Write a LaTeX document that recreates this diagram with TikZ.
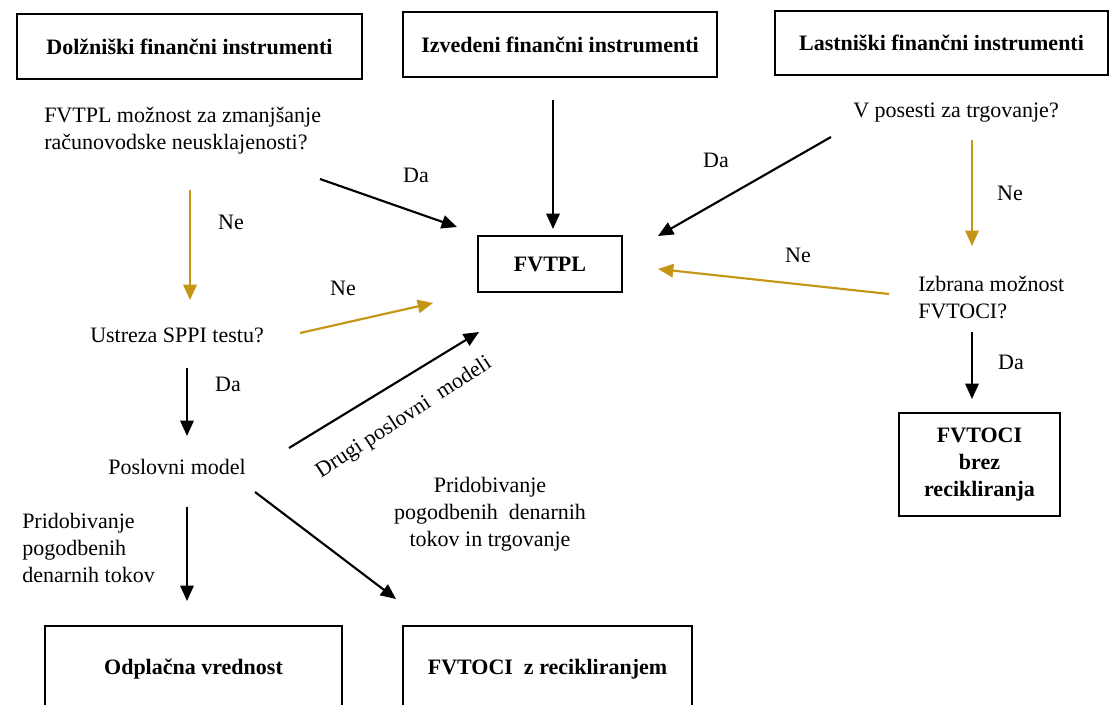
\documentclass[tikz,border=0pt]{standalone}
\usepackage{fontspec}
\setmainfont{Liberation Serif}
\usetikzlibrary{arrows.meta}
\definecolor{gold}{RGB}{197,150,20}
\tikzset{
  box/.style={draw=black, line width=1.1pt, inner sep=0pt, align=center,
    font=\fontsize{16.5pt}{20pt}\selectfont\bfseries},
  txt/.style={inner sep=0pt, anchor=west, align=left,
    font=\fontsize{16.5pt}{20.25pt}\selectfont},
  ctxt/.style={inner sep=0pt, align=center,
    font=\fontsize{16.5pt}{20.25pt}\selectfont},
  blk/.style={draw=black, line width=1.6pt, -{Triangle[length=11.5pt,width=10pt]}},
  gld/.style={draw=gold, line width=1.6pt, -{Triangle[length=11.5pt,width=10pt]}},
}
\begin{document}
\begin{tikzpicture}[x=0.75pt,y=-0.75pt]
\useasboundingbox (0,0) rectangle (1110,705);
\clip (0,0) rectangle (1110,705);
\fill[white] (0,0) rectangle (1110,705);

% boxes
\node[box, minimum width=258.75pt, minimum height=48.75pt] (dolz) at (189.5,46.5) {Dolžniški finančni instrumenti};
\node[box, minimum width=235.5pt, minimum height=48.75pt] (izv) at (560,44.5) {Izvedeni finančni instrumenti};
\node[box, minimum width=249.75pt, minimum height=48pt] (last) at (941.5,43) {Lastniški finančni instrumenti};
\node[box, minimum width=108pt, minimum height=42pt] (fvtpl) at (550,264) {FVTPL};
\node[box, minimum width=120.75pt, minimum height=77.25pt] (brez) at (979.5,464.5) {FVTOCI\\brez\\recikliranja};
\node[box, minimum width=222.75pt, minimum height=64.5pt] (odpl) at (193.5,669) {Odplačna vrednost};
\node[box, minimum width=216.75pt, minimum height=64.5pt] (zrec) at (547.5,669) {FVTOCI\ \ z recikliranjem};

% question texts
\node[txt] (q1) at (44,131) {FVTPL možnost za zmanjšanje\\računovodske neusklajenosti?};
\node[txt] (q2) at (853,113) {V posesti za trgovanje?};
\node[txt] (q3) at (918,298) {Izbrana možnost\\FVTOCI?};
\node[txt] (q4) at (90,335) {Ustreza SPPI testu?};
\node[txt] (q5) at (108,467) {Poslovni model};

% labels
\node[txt] (l1) at (22,548) {Pridobivanje\\pogodbenih\\denarnih tokov};
\node[ctxt] (l2) at (490,514) {Pridobivanje\\pogodbenih\ \ denarnih\\tokov in trgovanje};
\node[ctxt] (da1) at (416,175) {Da};
\node[ctxt] (ne1) at (231,222) {Ne};
\node[ctxt] (ne2) at (343,288) {Ne};
\node[ctxt] (da2) at (716,160) {Da};
\node[ctxt] (ne3) at (1010,193) {Ne};
\node[ctxt] (ne4) at (798,255) {Ne};
\node[ctxt] (da3) at (228,384) {Da};
\node[ctxt] (da4) at (1011,362) {Da};
\node[ctxt, rotate=33] (drugi) at (404,418) {Drugi poslovni\ \ modeli};

% connector end points
\coordinate (a1s) at (320,179);  \coordinate (a1e) at (457,227);
\coordinate (a2s) at (190,190);  \coordinate (a2e) at (190,300);
\coordinate (a3s) at (300,333);  \coordinate (a3e) at (433,303);
\coordinate (a4s) at (553,100);  \coordinate (a4e) at (553,229);
\coordinate (a5s) at (831,137);  \coordinate (a5e) at (658,236);
\coordinate (a6s) at (889,294);  \coordinate (a6e) at (658,269);
\coordinate (a7s) at (972,140);  \coordinate (a7e) at (972,246);
\coordinate (a8s) at (972,332);  \coordinate (a8e) at (972,399);
\coordinate (a9s) at (187,368);  \coordinate (a9e) at (187,436);
\coordinate (a10s) at (289,448); \coordinate (a10e) at (479,332);
\coordinate (a11s) at (187,507); \coordinate (a11e) at (187,601);
\coordinate (a12s) at (255,492); \coordinate (a12e) at (396,599);

\draw[blk] (a1s) -- (a1e);
\draw[gld] (a2s) -- (a2e);
\draw[gld] (a3s) -- (a3e);
\draw[blk] (a4s) -- (a4e);
\draw[blk] (a5s) -- (a5e);
\draw[gld] (a6s) -- (a6e);
\draw[gld] (a7s) -- (a7e);
\draw[blk] (a8s) -- (a8e);
\draw[blk] (a9s) -- (a9e);
\draw[blk] (a10s) -- (a10e);
\draw[blk] (a11s) -- (a11e);
\draw[blk] (a12s) -- (a12e);
\end{tikzpicture}
\end{document}
